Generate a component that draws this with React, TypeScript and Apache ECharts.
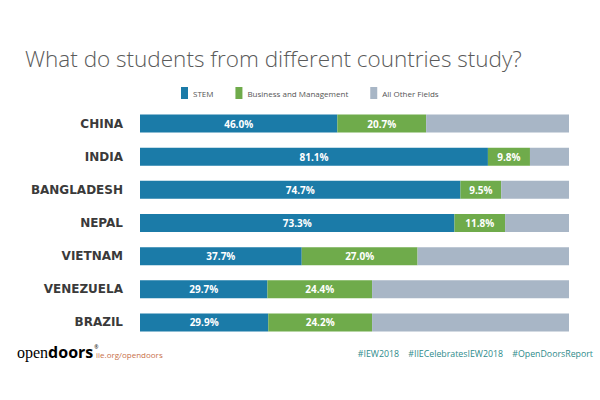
import React, { useEffect, useRef } from "react";
import * as echarts from "echarts";

const countries = ["CHINA", "INDIA", "BANGLADESH", "NEPAL", "VIETNAM", "VENEZUELA", "BRAZIL"];
const stem = [46.0, 81.1, 74.7, 73.3, 37.7, 29.7, 29.9];
const business = [20.7, 9.8, 9.5, 11.8, 27.0, 24.4, 24.2];
const other = stem.map((s, i) => +(100 - s - business[i]).toFixed(1));
const seriesNames = ["STEM", "Business and Management", "All Other Fields"];
const colors = ["#1b7ba8", "#6fab4b", "#a8b6c6"];

export default function App() {
  const ref = useRef<HTMLDivElement>(null);
  useEffect(() => {
    const chart = echarts.init(ref.current!, null, { renderer: "svg" });
    const label = {
      show: true,
      position: "inside",
      color: "#ffffff",
      fontSize: 10,
      fontWeight: "bold",
      fontFamily: "Open Sans",
      formatter: (p: any) => `${Number(p.value).toFixed(1)}%`,
    };
    const datasets = [stem, business, other];
    chart.setOption({
      animation: false,
      backgroundColor: "#ffffff",
      title: {
        text: "What do students from different countries study?",
        left: 20,
        top: 42,
        textStyle: { fontSize: 22.5, fontWeight: 300, color: "#5a5a5a", fontFamily: "Open Sans" },
      },
      legend: {
        top: 82,
        left: 176,
        itemWidth: 7,
        itemHeight: 12,
        itemGap: 22,
        icon: "rect",
        textStyle: { fontSize: 8, color: "#555555", fontFamily: "Open Sans" },
        data: seriesNames,
      },
      grid: { left: 140, right: 31, top: 107, bottom: 61, containLabel: false },
      xAxis: { type: "value", min: 0, max: 100, show: false },
      yAxis: {
        type: "category",
        data: countries,
        inverse: true,
        axisLine: { show: false },
        axisTick: { show: false },
        axisLabel: {
          margin: 17,
          fontSize: 12,
          fontWeight: "bold",
          color: "#3a3a3a",
          fontFamily: "DejaVu Sans",
        },
      },
      series: seriesNames.map((name, i) => ({
        name,
        type: "bar",
        stack: "total",
        data: datasets[i],
        barWidth: 18,
        itemStyle: { color: colors[i] },
        label: i < 2 ? label : { show: false },
      })),
      graphic: [
        {
          type: "text",
          left: 17,
          top: 344,
          style: {
            text: "{a|open}{b|doors}{c|®}",
            rich: {
              a: { fontSize: 16, fontFamily: "Liberation Serif", color: "#555555" },
              b: { fontSize: 16, fontFamily: "Open Sans", color: "#444444", fontWeight: "bold" },
              c: { fontSize: 5, fontFamily: "Open Sans", color: "#444444", verticalAlign: "top", padding: [0, 0, 10, 1] },
            },
          },
        },
        {
          type: "text",
          left: 96,
          top: 350,
          style: { text: "iie.org/opendoors", fontSize: 8, fill: "#c8704a", fontFamily: "Open Sans" },
        },
        {
          type: "text",
          right: 7,
          top: 349,
          style: {
            text: "#IEW2018    #IIECelebratesIEW2018    #OpenDoorsReport",
            fontSize: 8.8,
            fill: "#2e8b8b",
            fontFamily: "Open Sans",
          },
        },
      ],
    });
    return () => chart.dispose();
  }, []);
  return <div ref={ref} style={{ width: 600, height: 400, position: "absolute", left: 0, top: 0 }} />;
}
